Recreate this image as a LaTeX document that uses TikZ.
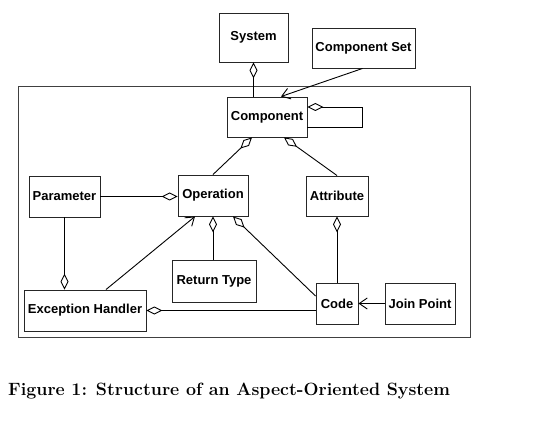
\documentclass[tikz,border=0pt]{standalone}
\usepackage{fontspec}
\newfontfamily\nodefont{Liberation Sans}
\usetikzlibrary{arrows.meta}
\tikzset{
  box/.style={draw=black!85, line width=0.95pt, inner sep=0pt, font=\nodefont\bfseries\fontsize{13}{15}\selectfont},
  link/.style={draw=black, line width=0.9pt},
  aggs/.style={link, {Diamond[open,length=16pt,width=8pt]}-},
  agge/.style={link, -{Diamond[open,length=16pt,width=8pt]}},
  nav/.style={link, -{Straight Barb[length=8pt,width=11pt]}},
}
\begin{document}
\begin{tikzpicture}[x=1pt,y=-1pt]
\useasboundingbox (0,0) rectangle (552,441);
\node[draw=black!75, line width=0.9pt, minimum width=452pt, minimum height=251pt, inner sep=0pt] (frame) at (244,211.5) {};
\node[box, minimum width=69pt, minimum height=49pt] (sys) at (253.5,37.5) {System};
\node[box, minimum width=103pt, minimum height=40pt] (cset) at (363.5,48) {Component Set};
\node[box, minimum width=80pt, minimum height=40pt] (comp) at (267,117) {Component};
\node[box, minimum width=71pt, minimum height=41pt] (param) at (64.5,196.5) {Parameter};
\node[box, minimum width=70pt, minimum height=41pt] (op) at (213,195.5) {Operation};
\node[box, minimum width=62pt, minimum height=40pt] (attr) at (337,196) {Attribute};
\node[box, minimum width=84pt, minimum height=42pt] (rt) at (214,281) {Return Type};
\node[box, minimum width=122pt, minimum height=41pt] (eh) at (85,310.5) {Exception Handler};
\node[box, minimum width=42pt, minimum height=41pt] (code) at (337,303.5) {Code};
\node[box, minimum width=70pt, minimum height=41pt] (jp) at (420,303.5) {Join Point};
\node[anchor=base west, inner sep=0pt, font=\bfseries\fontsize{17.8}{21}\selectfont] (cap) at (8,395.5) {Figure 1: Structure of an Aspect-Oriented System};
% connectors
\draw[aggs] (sys.south) -- (sys.south |- comp.north);
\draw[nav] ([xshift=-1pt]cset.south) -- ([xshift=14pt]comp.north);
\draw[aggs] ([yshift=10pt]comp.east) -- ++(55,0) -- ++(0,20) -- ([yshift=-10pt]comp.east);
\draw[aggs] ([xshift=-15pt]comp.south) -- (op.north);
\draw[aggs] ([xshift=17pt]comp.south) -- (attr.north);
\draw[agge] (param.east) -- (param.east -| op.west);
\draw[agge] (param.south) -- (param.south |- eh.north);
\draw[nav] ([xshift=21pt]eh.north) -- ([xshift=-18pt]op.south);
\draw[aggs] (op.south) -- (op.south |- rt.north);
\draw[aggs] ([xshift=20pt]op.south) -- ([yshift=7.5pt]code.west);
\draw[aggs] (attr.south) -- (code.north);
\draw[nav] (jp.west) -- (code.east);
\draw[agge] ([yshift=-7pt]code.west) -- ([yshift=-7pt]code.west -| eh.east);
\end{tikzpicture}
\end{document}
